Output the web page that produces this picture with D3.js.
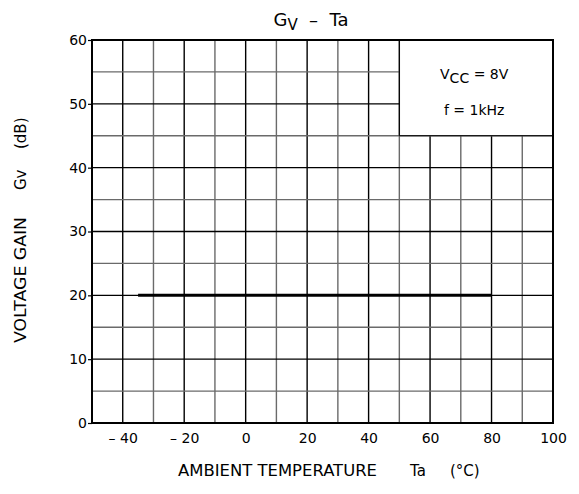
<!DOCTYPE html>
<html>
<head>
<meta charset="utf-8">
<script src="https://cdn.jsdelivr.net/npm/d3@7"></script>
<style>
  body { margin: 0; background: #fff; }
  svg text { font-family: "DejaVu Sans", sans-serif; fill: #000; }
</style>
</head>
<body>
<div class="chart"></div>
<script>
// data
const xTicks = [-40, -20, 0, 20, 40, 60, 80, 100];
const xTickLabels = ['– 40', '– 20', '0', '20', '40', '60', '80', '100'];
const yTicks = [0, 10, 20, 30, 40, 50, 60];
const gainTemp = [-35, 80];
const gainValue = [20, 20];
const noteLines = ['VCC = 8V', 'f = 1kHz'];

const svg_width = 579;
const svg_height = 494;
const margin = {top: 40, right: 26, bottom: 71, left: 92};
const chart_width = svg_width - margin.left - margin.right;
const chart_height = svg_height - margin.top - margin.bottom;

const svg = d3.select('.chart').append('svg')
  .attr('width', svg_width).attr('height', svg_height);
const g = svg.append('g').attr('transform', `translate(${margin.left},${margin.top})`);

const xScale = d3.scaleLinear().domain([-50, 100]).range([0, chart_width]);
const yScale = d3.scaleLinear().domain([0, 60]).range([chart_height, 0]);

// vertical grid every 10 (stops under the note box: x 50..100, y 45..60)
const vGrid = d3.range(-40, 100, 10);
g.append('g').selectAll('line').data(vGrid).enter().append('line')
  .attr('x1', d => xScale(d)).attr('x2', d => xScale(d))
  .attr('y1', yScale(0)).attr('y2', d => d > 50 ? yScale(45) : yScale(60))
  .style('stroke', d => d % 20 === 0 ? '#000' : '#6a6a6a')
  .style('stroke-width', 1.4);

// horizontal grid every 5
const hGrid = d3.range(5, 60, 5);
g.append('g').selectAll('line').data(hGrid).enter().append('line')
  .attr('x1', xScale(-50))
  .attr('x2', d => d > 45 ? xScale(50) : xScale(100))
  .attr('y1', d => yScale(d)).attr('y2', d => yScale(d))
  .style('stroke', d => d % 10 === 0 ? '#000' : '#6a6a6a')
  .style('stroke-width', 1.4);

// note box edges
g.append('line')
  .attr('x1', xScale(50)).attr('x2', xScale(50))
  .attr('y1', yScale(45)).attr('y2', yScale(60))
  .style('stroke', '#000').style('stroke-width', 1.2);
g.append('line')
  .attr('x1', xScale(50)).attr('x2', xScale(100))
  .attr('y1', yScale(45)).attr('y2', yScale(45))
  .style('stroke', '#000').style('stroke-width', 1.2);

// frame
g.append('rect').attr('x', 0).attr('y', 0)
  .attr('width', chart_width).attr('height', chart_height)
  .style('fill', 'none').style('stroke', '#000').style('stroke-width', 2);

// axes
const xAxis = d3.axisBottom(xScale).tickValues(xTicks)
  .tickFormat((d, i) => xTickLabels[i]).tickSize(0).tickPadding(10);
const xg = g.append('g').attr('transform', `translate(0,${chart_height})`).call(xAxis);
xg.select('.domain').remove();
xg.selectAll('text').style('font-size', '14px').style('font-family', '"DejaVu Sans", sans-serif');

const yAxis = d3.axisLeft(yScale).tickValues(yTicks).tickSize(4).tickPadding(1);
const yg = g.append('g').call(yAxis);
yg.select('.domain').remove();
yg.selectAll('line').style('stroke', '#000').style('stroke-width', 1.2);
yg.selectAll('text').style('font-size', '14px').style('font-family', '"DejaVu Sans", sans-serif');

// data line
const lineGen = d3.line().x(d => xScale(d[0])).y(d => yScale(d[1]));
g.append('path')
  .attr('d', lineGen(gainTemp.map((t, i) => [t, gainValue[i]])))
  .style('fill', 'none').style('stroke', '#000').style('stroke-width', 3);

// note
const note = g.append('g').attr('transform', `translate(${xScale(75) - 2},0)`);
const n1 = note.append('text').attr('y', 39).attr('text-anchor', 'middle').style('font-size', '14px');
n1.append('tspan').text('V');
n1.append('tspan').text('CC').attr('dy', 4);
n1.append('tspan').text(' = 8V').attr('dy', -4);
note.append('text').attr('y', 75).attr('text-anchor', 'middle').style('font-size', '14px')
  .text(noteLines[1]);

// title
const title = svg.append('text').attr('x', 311).attr('y', 26)
  .attr('text-anchor', 'middle').style('font-size', '18px')
  .attr('xml:space', 'preserve');
title.append('tspan').text('G');
title.append('tspan').text('V').attr('dy', 4).style('font-size', '15px');
title.append('tspan').text('  –  Ta').attr('dy', -4);

// x axis title, in three pieces [text, start x, length or null]
const xTitle = [['AMBIENT TEMPERATURE', 178, 199], ['Ta', 410, null], ['(°C)', 450, null]];
svg.append('g').selectAll('text').data(xTitle).enter().append('text')
  .attr('x', d => d[1]).attr('y', 476)
  .attr('textLength', d => d[2]).attr('lengthAdjust', 'spacingAndGlyphs')
  .style('font-size', '15px')
  .text(d => d[0]);

// y axis title, rotated, in three pieces
const yTitle = [['VOLTAGE GAIN', 343, 126], ['Gv', 190, null], ['(dB)', 149, null]];
svg.append('g').selectAll('text').data(yTitle).enter().append('text')
  .attr('transform', d => `translate(26,${d[1]}) rotate(-90)`)
  .attr('textLength', d => d[2]).attr('lengthAdjust', 'spacingAndGlyphs')
  .style('font-size', '15px')
  .text(d => d[0]);
</script>
</body>
</html>
